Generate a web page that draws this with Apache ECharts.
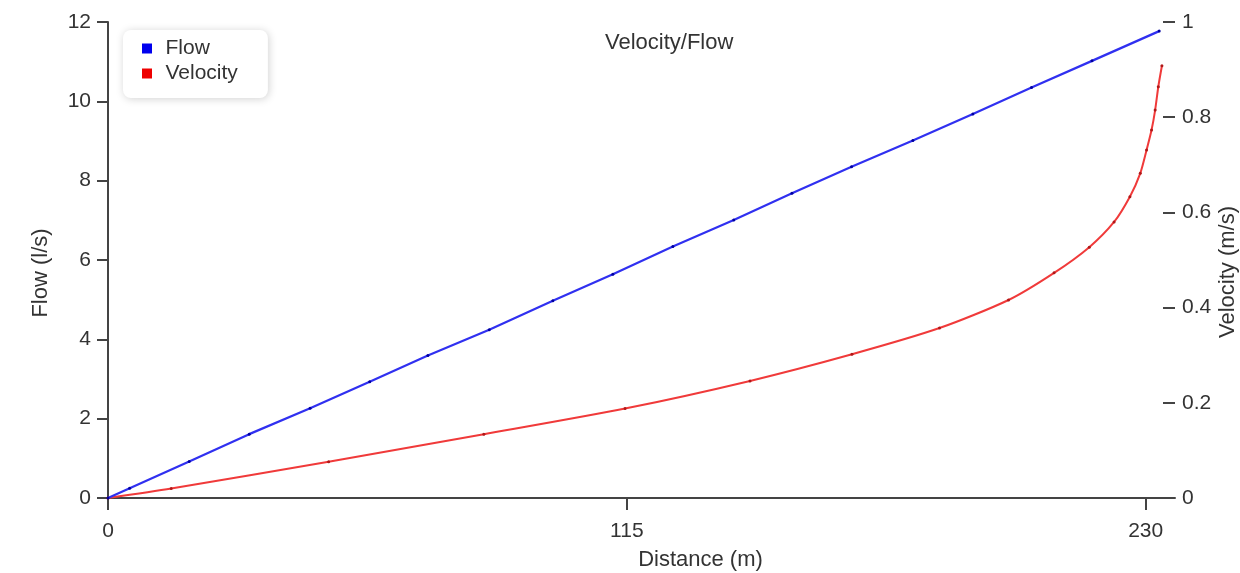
<!DOCTYPE html>
<html>
<head>
<meta charset="utf-8">
<script src="https://cdn.jsdelivr.net/npm/echarts@6/dist/echarts.min.js"></script>
<style>
  html, body { margin: 0; padding: 0; background: #fff; }
  #chart { width: 1240px; height: 573px; }
</style>
</head>
<body>
<div id="chart"></div>
<script>
// values
const flowDistance = [0, 4.8, 18.0, 31.3, 44.8, 58.0, 70.9, 84.5, 98.6, 111.9, 125.2, 138.7, 151.6, 164.8, 178.4, 191.7, 204.7, 218.1, 233.0]
const flowValues = [0, 0.245, 0.92, 1.61, 2.26, 2.93, 3.59, 4.24, 4.97, 5.64, 6.34, 7.01, 7.68, 8.35, 9.01, 9.68, 10.35, 11.02, 11.77]

const velocityDistance = [0, 14.0, 48.9, 83.3, 114.6, 142.3, 164.9, 184.3, 199.6, 209.7, 217.5, 223.0, 226.5, 228.8, 230.2, 231.3, 232.1, 232.8, 233.6]
const velocityValues = [0, 0.020, 0.076, 0.134, 0.188, 0.246, 0.302, 0.357, 0.416, 0.473, 0.527, 0.580, 0.633, 0.682, 0.731, 0.773, 0.815, 0.864, 0.908]

const distanceTicks = [0, 115, 230]

const FONT = '"Liberation Sans", Arial, sans-serif'
const TEXT = '#333'
const AXIS = '#444'

const pairs = (xs, ys) => xs.map((x, i) => [x, ys[i]])

const chart = echarts.init(document.getElementById('chart'))

chart.setOption({
  animation: false,
  backgroundColor: '#fff',
  textStyle: { fontFamily: FONT },
  title: {
    text: 'Velocity/Flow',
    left: 605,
    top: 32,
    padding: 0,
    textStyle: { fontFamily: FONT, fontSize: 22, fontWeight: 'normal', color: TEXT }
  },
  legend: {
    orient: 'vertical',
    left: 123,
    top: 30,
    padding: [8, 30, 14, 19],
    itemWidth: 27,
    itemHeight: 10,
    itemGap: 4,
    icon: 'path://M0,0h10v10h-10z',
    backgroundColor: '#fff',
    borderRadius: 8,
    shadowBlur: 8,
    shadowColor: 'rgba(0,0,0,0.18)',
    shadowOffsetX: 1,
    shadowOffsetY: 1,
    textStyle: { fontFamily: FONT, fontSize: 21, color: TEXT, lineHeight: 20 },
    data: [
      { name: 'Flow', itemStyle: { color: '#0000ee' } },
      { name: 'Velocity', itemStyle: { color: '#ee0000' } }
    ]
  },
  grid: { left: 108, right: 65, top: 22, bottom: 75, outerBoundsMode: 'none' },
  xAxis: {
    type: 'value',
    min: 0,
    max: 236.5,
    name: 'Distance (m)',
    nameLocation: 'middle',
    nameGap: 51,
    nameMoveOverlap: false,
    nameTextStyle: { fontFamily: FONT, fontSize: 22, color: TEXT, padding: [0, 0, 0, 118] },
    splitLine: { show: false },
    axisLine: { lineStyle: { color: AXIS, width: 2 } },
    axisTick: { length: 12, customValues: distanceTicks, lineStyle: { color: AXIS, width: 2 } },
    axisLabel: { customValues: distanceTicks, margin: 23, fontFamily: FONT, fontSize: 21, color: TEXT }
  },
  yAxis: [
    {
      type: 'value',
      min: 0,
      max: 12,
      interval: 2,
      position: 'left',
      name: 'Flow (l/s)',
      nameLocation: 'middle',
      nameGap: 56,
      nameMoveOverlap: false,
      nameTextStyle: { fontFamily: FONT, fontSize: 22, color: TEXT, padding: [0, 26, 0, 0] },
      splitLine: { show: false },
      axisLine: { show: true, lineStyle: { color: AXIS, width: 2 } },
      axisTick: { length: 11, lineStyle: { color: AXIS, width: 2 } },
      axisLabel: { margin: 17, fontFamily: FONT, fontSize: 21, color: TEXT }
    },
    {
      type: 'value',
      min: 0,
      max: 1,
      interval: 0.2,
      position: 'right',
      name: 'Velocity (m/s)',
      nameLocation: 'middle',
      nameGap: 42,
      nameMoveOverlap: false,
      nameTextStyle: { fontFamily: FONT, fontSize: 22, color: TEXT, padding: [0, 24, 0, 0] },
      splitLine: { show: false },
      axisLine: { show: false },
      axisTick: { show: true, inside: true, length: 12, lineStyle: { color: AXIS, width: 2 } },
      axisLabel: { margin: 7, fontFamily: FONT, fontSize: 21, color: TEXT }
    }
  ],
  series: [
    {
      name: 'Flow',
      type: 'line',
      yAxisIndex: 0,
      data: pairs(flowDistance, flowValues),
      symbol: 'circle',
      symbolSize: 3,
      showSymbol: true,
      lineStyle: { color: '#3030f0', width: 2.2 },
      itemStyle: { color: '#0000a0' },
      z: 3
    },
    {
      name: 'Velocity',
      type: 'line',
      yAxisIndex: 1,
      data: pairs(velocityDistance, velocityValues),
      smooth: 0.25,
      symbol: 'circle',
      symbolSize: 3,
      showSymbol: true,
      lineStyle: { color: '#f03a3a', width: 2 },
      itemStyle: { color: '#b01818' },
      z: 2
    }
  ]
})
</script>
</body>
</html>
